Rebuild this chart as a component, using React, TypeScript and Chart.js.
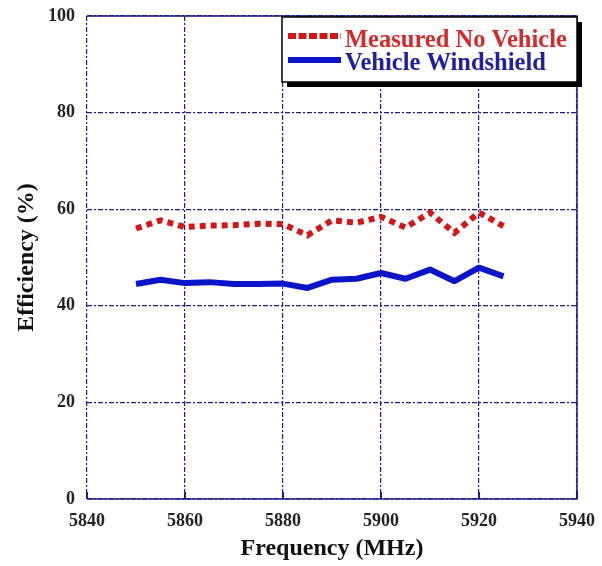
import React, { useEffect, useRef } from "react";
import { Chart, registerables } from "chart.js";

Chart.register(...registerables);

const frequencies = [5850, 5855, 5860, 5865, 5870, 5875, 5880, 5885, 5890, 5895, 5900, 5905, 5910, 5915, 5920, 5925];
const measuredNoVehicle = [56.0, 57.7, 56.3, 56.6, 56.7, 57.0, 56.9, 54.6, 57.7, 57.2, 58.4, 56.2, 59.3, 55.1, 59.3, 56.5];
const vehicleWindshield = [44.5, 45.4, 44.7, 44.9, 44.5, 44.5, 44.6, 43.7, 45.4, 45.6, 46.8, 45.6, 47.5, 45.1, 47.9, 46.1];
const seriesNames = ["Measured No Vehicle", "Vehicle Windshield"];
const xTicks = [5840, 5860, 5880, 5900, 5920, 5940];
const yTicks = [0, 20, 40, 60, 80, 100];

const NAVY = "#1c1c8a";
const RED = "#d01818";
const BLUE = "#0a14c8";
const SERIF = "'Liberation Serif', 'Times New Roman', serif";

const framePlugin = {
  id: "frame",
  afterDatasetsDraw(chart: any) {
    const { ctx, chartArea } = chart;
    const { left, right, top, bottom } = chartArea;
    ctx.save();
    ctx.strokeStyle = NAVY;
    ctx.lineWidth = 1.5;
    ctx.setLineDash([]);
    ctx.beginPath();
    ctx.moveTo(left, top);
    ctx.lineTo(right, top);
    ctx.lineTo(right, bottom);
    ctx.lineTo(left, bottom);
    ctx.stroke();
    const xs = chart.scales.x;
    ctx.lineWidth = 2;
    xTicks.forEach((t) => {
      const px = xs.getPixelForValue(t);
      ctx.beginPath();
      ctx.moveTo(px, bottom);
      ctx.lineTo(px, bottom - 7);
      ctx.stroke();
    });
    ctx.restore();
  },
  afterDraw(chart: any) {
    const { ctx } = chart;
    const bx = 282, by = 17, bw = 295, bh = 65;
    ctx.save();
    ctx.fillStyle = "#000";
    ctx.fillRect(bx + 5, by + 5, bw, bh);
    ctx.fillStyle = "#fff";
    ctx.fillRect(bx, by, bw, bh);
    ctx.strokeStyle = "#000";
    ctx.lineWidth = 1.5;
    ctx.strokeRect(bx, by, bw, bh);

    const entries = [
      { name: seriesNames[0], color: RED, text: "#d42a2a", dash: [8, 2.5], y: by + 19, ty: by + 24 },
      { name: seriesNames[1], color: BLUE, text: "#2020a0", dash: [], y: by + 43, ty: by + 47 },
    ];
    entries.forEach((e) => {
      ctx.strokeStyle = e.color;
      ctx.lineWidth = 6;
      ctx.lineCap = "butt";
      ctx.setLineDash(e.dash);
      ctx.beginPath();
      ctx.moveTo(bx + 6, e.y);
      ctx.lineTo(bx + 59, e.y);
      ctx.stroke();
      ctx.setLineDash([]);
      ctx.fillStyle = e.text;
      ctx.font = `bold 24.5px ${SERIF}`;
      ctx.textBaseline = "middle";
      ctx.textAlign = "left";
      ctx.fillText(e.name, bx + 63, e.ty);
    });
    ctx.restore();
  },
};

export default function App() {
  const ref = useRef<HTMLCanvasElement | null>(null);

  useEffect(() => {
    document.body.style.margin = "0";
    const canvas = ref.current;
    if (!canvas) return;
    const chart = new Chart(canvas, {
      type: "line",
      data: {
        datasets: [
          {
            label: seriesNames[0],
            data: frequencies.map((f, i) => ({ x: f, y: measuredNoVehicle[i] })),
            borderColor: RED,
            backgroundColor: RED,
            borderWidth: 6,
            borderDash: [6, 5],
            borderCapStyle: "butt",
            pointRadius: 0,
            tension: 0,
          },
          {
            label: seriesNames[1],
            data: frequencies.map((f, i) => ({ x: f, y: vehicleWindshield[i] })),
            borderColor: BLUE,
            backgroundColor: BLUE,
            borderWidth: 6,
            borderJoinStyle: "round",
            borderCapStyle: "butt",
            pointRadius: 0,
            tension: 0,
          },
        ],
      },
      options: {
        responsive: false,
        animation: false,
        devicePixelRatio: 1,
        layout: { padding: { top: 16, right: 25, left: 0, bottom: 0 } },
        plugins: {
          legend: { display: false },
          tooltip: { enabled: false },
        },
        scales: {
          x: {
            type: "linear",
            min: 5840,
            max: 5940,
            afterBuildTicks: (scale: any) => {
              scale.ticks = xTicks.map((v) => ({ value: v }));
            },
            afterFit: (scale: any) => {
              scale.height = 67;
              scale.paddingLeft = 0;
              scale.paddingRight = 0;
            },
            ticks: {
              color: "#222",
              padding: 12,
              maxRotation: 0,
              callback: (v: any) => String(v),
              font: { family: SERIF, size: 18, weight: "bold" },
            },
            grid: { color: NAVY, lineWidth: 1.2, drawTicks: false },
            border: { display: false, dash: [5, 2, 2, 2] },
            title: {
              display: true,
              text: "Frequency (MHz)",
              color: "#111",
              font: { family: SERIF, size: 24, weight: "bold" },
              padding: { top: 0, bottom: 3 },
            },
          },
          y: {
            min: 0,
            max: 100,
            afterBuildTicks: (scale: any) => {
              scale.ticks = yTicks.map((v) => ({ value: v }));
            },
            afterFit: (scale: any) => {
              scale.width = 87;
              scale.paddingTop = 0;
              scale.paddingBottom = 0;
            },
            ticks: {
              color: "#222",
              padding: 12,
              font: { family: SERIF, size: 18, weight: "bold" },
            },
            grid: { color: NAVY, lineWidth: 1.2, drawTicks: false },
            border: { display: false, dash: [5, 2, 2, 2] },
            title: {
              display: true,
              text: "Efficiency (%)",
              color: "#111",
              font: { family: SERIF, size: 24, weight: "bold" },
              padding: { top: 12, bottom: 0 },
            },
          },
        },
      },
      plugins: [framePlugin],
    } as any);
    return () => chart.destroy();
  }, []);

  return (
    <div style={{ width: 602, height: 566 }}>
      <canvas ref={ref} width={602} height={566} style={{ display: "block" }} />
    </div>
  );
}
